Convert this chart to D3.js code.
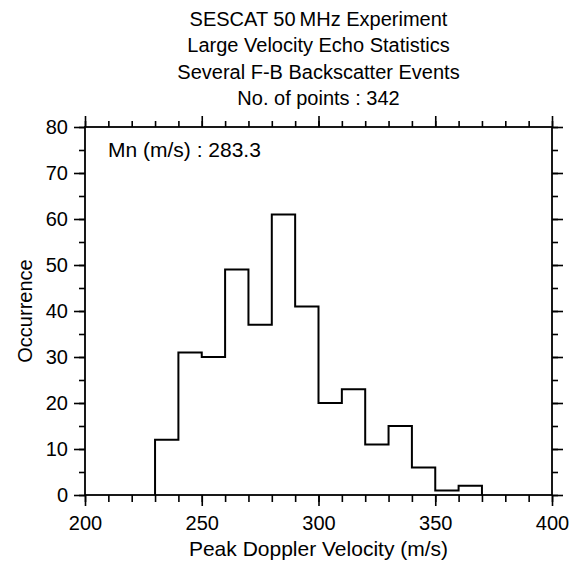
<!DOCTYPE html>
<html><head><meta charset="utf-8">
<script src="https://cdn.jsdelivr.net/npm/d3@7"></script>
<style>body{margin:0;background:#fff}svg{display:block}text{font-family:"Liberation Sans",Arial,Helvetica,sans-serif;fill:#000}</style>
</head><body><svg id="c" width="574" height="563"></svg>
<script>
const binStarts = [230,240,250,260,270,280,290,300,310,320,330,340,350,360];
const binWidth = 10;
const counts = [12,31,30,49,37,61,41,20,23,11,15,6,1,2];
const titleLines = ["SESCAT 50\u2009MHz Experiment","Large Velocity Echo Statistics","Several F-B Backscatter Events","No. of points : 342"];
const xMajorTicks = [200,250,300,350,400];
const xMinorTicks = d3.range(200,401,10);
const yMajorTicks = d3.range(0,81,10);
const yMinorTicks = d3.range(0,81,5);
const meanLabel = "Mn (m/s) : 283.3";
const xTitle = "Peak Doppler Velocity (m/s)";
const yTitle = "Occurrence";

const svg = d3.select("#c");
const L=85,R=552,T=127,B=495;
const x = d3.scaleLinear().domain([200,400]).range([L,R]);
const y = d3.scaleLinear().domain([0,80]).range([B,T]);
const fs = 20;

function axisG(axis, tx, ty){
  const g = svg.append("g").attr("transform",`translate(${tx},${ty})`).call(axis);
  g.select(".domain").remove();
  g.selectAll("line").attr("stroke","#000").attr("stroke-width",1.6);
  g.selectAll("text").style("font-size",fs+"px").style("font-family",'"Liberation Sans",Arial,sans-serif');
  return g;
}
// bottom
axisG(d3.axisBottom(x).tickValues(xMinorTicks).tickSize(7).tickFormat(""),0,B);
axisG(d3.axisBottom(x).tickValues(xMajorTicks).tickSize(11).tickPadding(10).tickFormat(d3.format("d")),0,B);
// top
axisG(d3.axisTop(x).tickValues(xMinorTicks).tickSize(6).tickFormat(""),0,T);
axisG(d3.axisTop(x).tickValues(xMajorTicks).tickSize(11).tickFormat(""),0,T);
// left
axisG(d3.axisLeft(y).tickValues(yMinorTicks).tickSize(6).tickFormat(""),L,0);
axisG(d3.axisLeft(y).tickValues(yMajorTicks).tickSize(11).tickPadding(6).tickFormat(d3.format("d")),L,0);
// right
axisG(d3.axisRight(y).tickValues(yMinorTicks).tickSize(6).tickFormat(""),R,0);
axisG(d3.axisRight(y).tickValues(yMajorTicks).tickSize(11).tickFormat(""),R,0);

svg.append("rect").attr("x",L).attr("y",T).attr("width",R-L).attr("height",B-T)
  .attr("fill","none").attr("stroke","#000").attr("stroke-width",1.8);

// histogram step outline
let p = d3.path();
p.moveTo(x(binStarts[0]), y(0));
binStarts.forEach((s,i)=>{ p.lineTo(x(s), y(counts[i])); p.lineTo(x(s+binWidth), y(counts[i])); });
p.lineTo(x(binStarts[binStarts.length-1]+binWidth), y(0));
svg.append("path").attr("d",p.toString()).attr("fill","none").attr("stroke","#000").attr("stroke-width",2);

// titles
titleLines.forEach((t,i)=>{
  svg.append("text").attr("x",(L+R)/2).attr("y",26+i*26.3).attr("text-anchor","middle").style("font-size",fs+"px").text(t);
});
svg.append("text").attr("x",108).attr("y",157).style("font-size","21px").text(meanLabel);
svg.append("text").attr("x",(L+R)/2).attr("y",556).attr("text-anchor","middle").style("font-size","21px").text(xTitle);
svg.append("text").attr("transform",`translate(32,${(T+B)/2}) rotate(-90)`).attr("text-anchor","middle").style("font-size",fs+"px").text(yTitle);
</script></body></html>
